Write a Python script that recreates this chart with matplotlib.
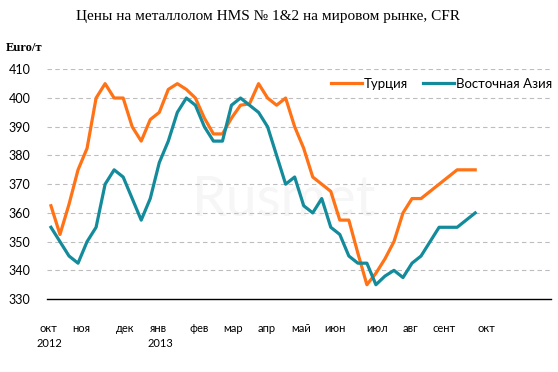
import numpy as np
import matplotlib
matplotlib.use("Agg")
import matplotlib.pyplot as plt

# weekly prices, Euro/t
turkey = [362.5, 352.5, 363, 375, 382.5, 400, 405, 400, 400, 390, 385, 392.5,
          395, 403, 405, 403, 400, 393, 387.5, 387.5, 393, 397.5, 398, 405,
          400, 397.5, 400, 390, 382.5, 372.5, 370, 367.5, 357.5, 357.5, 346, 335,
          339, 344, 350, 360, 365, 365, 367.5, 370, 372.5, 375, 375, 375]
east_asia = [355, 350, 345, 342.5, 350, 355, 370, 375, 372.5, 365, 357.5, 365,
             377.5, 385, 395, 400, 397.5, 390, 385, 385, 397.5, 400, 397.5, 395,
             390, 380, 370, 372.5, 362.5, 360, 365, 355, 352.5, 345, 342.5, 342.5,
             335, 338, 340, 337.5, 342.5, 345, 350, 355, 355, 355, 357.5, 360]

months = ['окт', 'ноя', 'дек', 'янв', 'фев', 'мар', 'апр', 'май', 'июн',
          'июл', 'авг', 'сент', 'окт']
years = ['2012', '2013']
yticks = [330, 340, 350, 360, 370, 380, 390, 400, 410]

# label places along the week index
month_pos = [-0.3, 3.4, 8.2, 11.9, 16.4, 20.2, 23.9, 27.7, 31.5, 36.1, 39.8, 43.6, 48.2]
year_pos = [-0.2, 12.1]

orange = '#FF7215'
teal = '#148B9B'

plt.rcParams['font.family'] = ['Lato', 'DejaVu Sans']

fig = plt.figure(figsize=(5.58, 3.72), dpi=100)
ax = fig.add_axes([0.0842, 0.196, 0.9033, 0.6177])

x = np.arange(len(turkey))
ax.plot(x, turkey, color=orange, lw=2.3, label='Турция', zorder=3)
ax.plot(x, east_asia, color=teal, lw=2.3, label='Восточная Азия', zorder=3)

ax.set_xlim(-0.44, 55.4)
ax.set_ylim(330, 410)
ax.set_yticks(yticks)
ax.set_yticklabels([str(v) for v in yticks], fontsize=9)
for v in yticks[1:]:
    ax.axhline(v, color='#BDBDBD', lw=0.8, ls=(0, (4, 3)), zorder=1)

ax.set_xticks([])
ax.tick_params(axis='y', length=0, pad=12)
for s in ['top', 'right', 'left']:
    ax.spines[s].set_visible(False)
ax.spines['bottom'].set_color('black')
ax.spines['bottom'].set_linewidth(1)

for p, m in zip(month_pos, months):
    ax.text(p, -0.13, m, transform=ax.get_xaxis_transform(), ha='center',
            va='center', fontsize=8)
for p, yr in zip(year_pos, years):
    ax.text(p, -0.195, yr, transform=ax.get_xaxis_transform(), ha='center',
            va='center', fontsize=8)

# faint watermark
ax.text(0.47, 0.43, 'Rusmet', transform=ax.transAxes, ha='center', va='center',
        fontsize=40, color='#F6F6F6', zorder=0)

ax.legend(loc='upper right', bbox_to_anchor=(1.025, 1.015), ncol=2, frameon=False,
          fontsize=9.5, handlelength=2.4, handletextpad=0.1, columnspacing=1.1)

fig.text(0.48, 0.955, 'Цены на металлолом HMS № 1&2 на мировом рынке, CFR',
         ha='center', va='center', fontsize=11, family='Liberation Serif')
fig.text(0.011, 0.87, 'Euro/т', ha='left', va='center', fontsize=9,
         fontweight='bold', family='Liberation Serif')

fig.savefig('out.png', dpi=100)
